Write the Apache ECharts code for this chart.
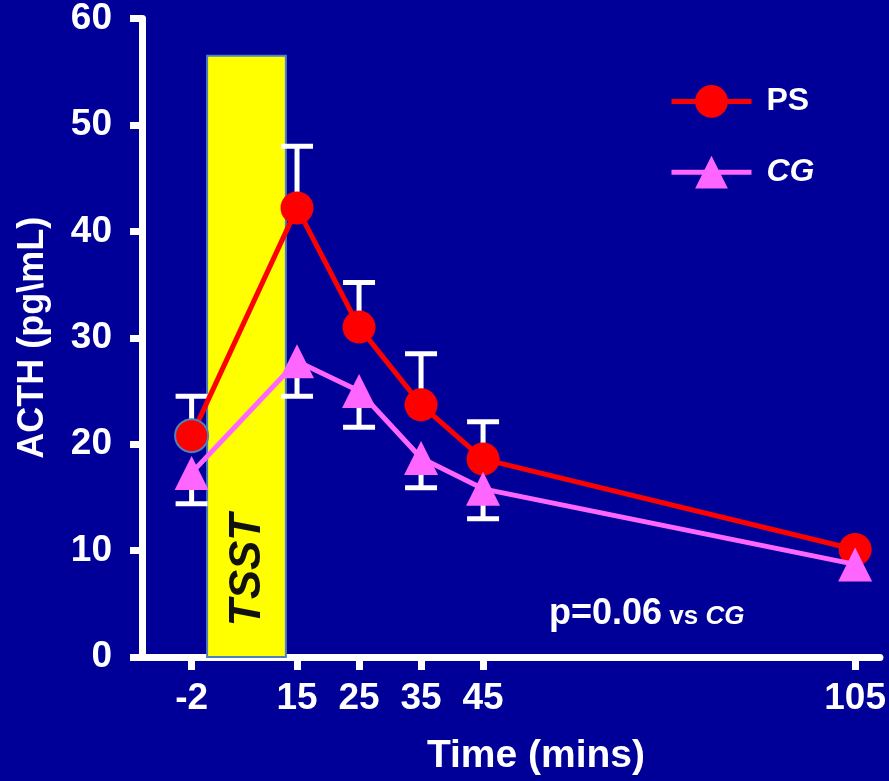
<!DOCTYPE html>
<html>
<head>
<meta charset="utf-8">
<title>ACTH</title>
<script src="https://cdn.jsdelivr.net/npm/echarts@6/dist/echarts.min.js"></script>
<style>
  html, body { margin: 0; padding: 0; background: #000099; }
  #main { width: 889px; height: 781px; }
</style>
</head>
<body>
<div id="main"></div>
<script type="text/javascript">
// time points (mins)
var times = [-2, 15, 25, 35, 45, 105];
// PS group mean and upper error
var psMean = [20.8, 42.2, 31.0, 23.7, 18.6, 10.1];
var psUpper = [24.5, 48.0, 35.2, 28.5, 22.1, null];
// CG group mean and lower error
var cgMean = [17.3, 27.8, 25.0, 18.7, 15.8, 8.7];
var cgLower = [14.4, 24.5, 21.6, 15.9, 13.0, null];
// TSST window
var tsstStart = 0.5, tsstEnd = 13.2, tsstTop = 56.5;
var xTicks = [-2, 15, 25, 35, 45, 105];

var FONT = 'Liberation Sans';
var chart = echarts.init(document.getElementById('main'));

function pairs(xs, ys) {
    return xs.map(function (x, i) { return [x, ys[i]]; });
}
function barData(mean, bound) {
    var out = [];
    times.forEach(function (t, i) {
        if (bound[i] != null) out.push([t, mean[i], bound[i]]);
    });
    return out;
}
// error bar: stem from the mean to the bound plus a cap
function renderBar(params, api) {
    var p0 = api.coord([api.value(0), api.value(1)]);
    var p1 = api.coord([api.value(0), api.value(2)]);
    var st = { stroke: '#ffffff', lineWidth: 5 };
    return {
        type: 'group',
        children: [
            { type: 'line', shape: { x1: p0[0], y1: p0[1], x2: p1[0], y2: p1[1] }, style: st },
            { type: 'line', shape: { x1: p1[0] - 16, y1: p1[1], x2: p1[0] + 16, y2: p1[1] }, style: st }
        ]
    };
}

var psData = pairs(times, psMean);
psData[0] = { value: psData[0], itemStyle: { borderColor: '#4f81bd', borderWidth: 2 } };

var option = {
    backgroundColor: '#000099',
    animation: false,
    grid: { left: 142, right: 3, top: 16, bottom: 121 },
    legend: {
        orient: 'vertical',
        left: 664,
        top: 80,
        itemWidth: 80,
        itemHeight: 41,
        itemGap: 38,
        data: ['PS', 'CG'],
        lineStyle: { width: 5 },
        formatter: function (name) { return name === 'CG' ? '{i|CG}' : '{n|PS}'; },
        textStyle: {
            color: '#fff',
            padding: [0, 0, 0, 10],
            rich: {
                n: { fontFamily: FONT, fontSize: 32, fontWeight: 'bold', color: '#fff' },
                i: { fontFamily: FONT, fontSize: 32, fontWeight: 'bold', fontStyle: 'italic', color: '#fff' }
            }
        }
    },
    xAxis: {
        type: 'value',
        min: -10,
        max: 109,
        name: 'Time (mins)',
        nameLocation: 'middle',
        nameGap: 80,
        nameTextStyle: { color: '#fff', fontFamily: FONT, fontSize: 39, fontWeight: 'bold', padding: [0, 0, 0, 50] },
        splitLine: { show: false },
        axisLine: { lineStyle: { color: '#fff', width: 7 } },
        axisTick: { show: true, customValues: xTicks, length: 13, lineStyle: { color: '#fff', width: 7 } },
        axisLabel: { customValues: xTicks, color: '#fff', fontFamily: FONT, fontSize: 37, fontWeight: 'bold', margin: 23 }
    },
    yAxis: {
        type: 'value',
        min: 0,
        max: 60,
        interval: 10,
        name: 'ACTH (pg\\mL)',
        nameLocation: 'middle',
        nameGap: 91,
        nameTextStyle: { color: '#fff', fontFamily: FONT, fontSize: 36, fontWeight: 'bold' },
        splitLine: { show: false },
        axisLine: { onZero: false, lineStyle: { color: '#fff', width: 7 } },
        axisTick: { length: 12, lineStyle: { color: '#fff', width: 7 } },
        axisLabel: { color: '#fff', fontFamily: FONT, fontSize: 37, fontWeight: 'bold', margin: 30 }
    },
    series: [
        {
            name: 'tsst',
            type: 'line',
            data: [],
            z: 1,
            markArea: {
                silent: true,
                itemStyle: { color: '#ffff00', borderColor: '#4f7fbf', borderWidth: 2 },
                data: [[{ xAxis: tsstStart, yAxis: 0 }, { xAxis: tsstEnd, yAxis: tsstTop }]]
            }
        },
        {
            type: 'custom',
            z: 2,
            renderItem: renderBar,
            data: barData(psMean, psUpper)
        },
        {
            type: 'custom',
            z: 2,
            renderItem: renderBar,
            data: barData(cgMean, cgLower)
        },
        {
            name: 'PS',
            type: 'line',
            z: 3,
            data: psData,
            symbol: 'circle',
            symbolSize: 33,
            lineStyle: { color: '#ff0000', width: 5 },
            itemStyle: { color: '#ff0000' }
        },
        {
            name: 'CG',
            type: 'line',
            z: 4,
            data: pairs(times, cgMean),
            symbol: 'triangle',
            symbolSize: 34,
            lineStyle: { color: '#ff66ff', width: 5 },
            itemStyle: { color: '#ff66ff' }
        }
    ],
    graphic: [
        {
            type: 'text',
            x: 248,
            y: 570,
            rotation: Math.PI / 2,
            z: 10,
            style: {
                text: 'TSST',
                fill: '#111111',
                font: 'italic bold 44px "Liberation Sans"',
                align: 'center',
                verticalAlign: 'middle'
            }
        },
        {
            type: 'text',
            left: 549,
            top: 596,
            z: 10,
            style: {
                text: '{a|p=0.06}{b| vs }{c|CG}',
                rich: {
                    a: { fontFamily: FONT, fontSize: 36, fontWeight: 'bold', fill: '#fff', verticalAlign: 'bottom' },
                    b: { fontFamily: FONT, fontSize: 26, fontWeight: 'bold', fill: '#fff', verticalAlign: 'bottom', padding: [0, 0, 2, 0] },
                    c: { fontFamily: FONT, fontSize: 26, fontWeight: 'bold', fontStyle: 'italic', fill: '#fff', verticalAlign: 'bottom', padding: [0, 0, 2, 0] }
                }
            }
        }
    ]
};
chart.setOption(option);
</script>
</body>
</html>
